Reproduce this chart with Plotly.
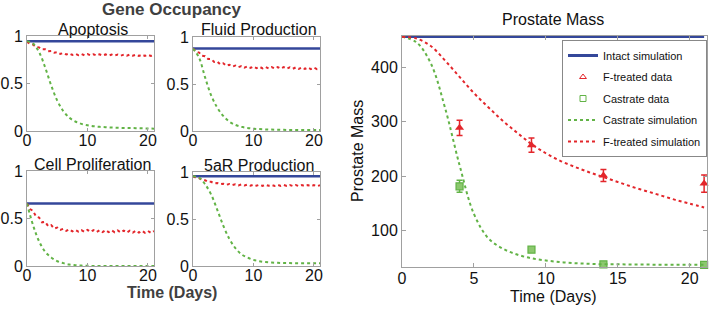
import plotly.graph_objects as go

# ---------------- data ----------------
T_DAY = [0, 1, 2, 3, 4, 5, 6, 7, 8, 9, 10, 11, 12, 13, 14, 15, 16, 17, 18, 19, 20, 21]
T_HALF = [0, 0.5, 1, 1.5, 2, 2.5, 3, 3.5, 4, 4.5, 5, 5.5, 6, 6.5, 7, 7.5, 8, 8.5, 9, 9.5,
          10, 10.5, 11, 11.5, 12, 12.5, 13, 13.5, 14, 14.5, 15, 15.5, 16, 16.5, 17, 17.5,
          18, 18.5, 19, 19.5, 20, 20.5, 21]

# Gene occupancy panels
AP_INTACT = 0.945
AP_F = [.94, .915, .91, .885, .88, .86, .86, .84, .843, .825, .83, .812, .82, .805, .815, .80,
        .812, .798, .81, .797, .809, .796, .808, .795, .807, .795, .806, .794, .805, .793, .805,
        .793, .804, .792, .804, .792, .803, .791, .803, .791, .802, .79, .80]
AP_C = [.945, .92, .83, .67, .48, .32, .21, .14, .10, .075, .06, .05, .044, .04, .036, .034,
        .032, .031, .03, .028, .027, .025]

FL_INTACT = 0.877
FL_F = [.877, .845, .835, .80, .795, .765, .765, .735, .74, .71, .72, .695, .705, .685, .695,
        .678, .69, .674, .687, .671, .685, .669, .683, .667, .682, .666, .681, .665, .68, .664,
        .679, .663, .678, .662, .677, .661, .676, .66, .675, .659, .674, .658, .672]
FL_C = [.877, .78, .57, .38, .25, .16, .10, .065, .045, .033, .025, .02, .017, .015, .013,
        .012, .011, .011, .01, .01, .01, .01]

PR_INTACT = 0.657
PR_F = [.657, .60, .58, .52, .51, .46, .465, .42, .43, .395, .405, .38, .392, .37, .385, .365,
        .38, .362, .378, .36, .38, .36, .378, .358, .377, .357, .376, .356, .375, .355, .374,
        .354, .373, .353, .372, .352, .371, .351, .37, .35, .369, .349, .368]
PR_C = [.657, .43, .26, .15, .09, .05, .03, .015, .008, .004, .002, .001, 0, 0, 0, 0, 0, 0, 0,
        0, 0, 0]

FA_INTACT = 0.955
FA_F = [.955, .94, .935, .915, .912, .895, .895, .88, .883, .87, .876, .864, .872, .86, .869,
        .858, .867, .856, .866, .855, .865, .854, .864, .853, .864, .853, .863, .852, .863, .852,
        .862, .851, .862, .851, .861, .85, .861, .85, .86, .849, .86, .849, .859]
FA_C = [.955, .94, .87, .76, .60, .43, .29, .19, .125, .09, .065, .05, .042, .037, .034, .032,
        .031, .03, .03, .03, .03, .03]

# Prostate mass panel
MASS_INTACT = 457.5
MASS_F_SIM = [457, 454, 440, 413, 383, 353, 327, 302, 280, 259, 242, 228, 217, 207, 198, 189,
              180, 172, 164, 156, 149, 142]
MASS_C_SIM = [457, 447, 408, 325, 220, 130, 85, 66, 55, 48, 44, 41, 39, 38, 37, 37, 36.5, 36.5,
              36, 36, 36, 36]
DATA_T = [4, 9, 14, 21]
F_DATA = [289, 257, 201, 186]
F_ERR = [14, 13, 11, 16]
C_DATA = [181, 64, 37, 36]
C_ERR = [11, 3, 2, 2]

SMALL_XTICKS = [0, 10, 20]
SMALL_YTICKS = [0, 0.5, 1]
SMALL_YTEXT = ["0", "0.5", "1"]
BIG_XTICKS = [0, 5, 10, 15, 20]
BIG_YTICKS = [100, 200, 300, 400]

# ---------------- styling / layout ----------------
W, H = 712, 309
BLUE = '#34479a'
RED = '#e3262b'
GREEN = '#62b346'
AXC = '#a0a0a0'
TXT = '#111111'
FONT = 'Liberation Sans, Arial, sans-serif'


def fx(p):
    return p / W


def fy(p):
    return 1 - p / H


fig = go.Figure()

panels = [
    ("Apoptosis", AP_INTACT, AP_F, AP_C, (27, 154), (36, 131)),
    ("Fluid Production", FL_INTACT, FL_F, FL_C, (193, 320), (37, 131)),
    ("Cell Proliferation", PR_INTACT, PR_F, PR_C, (27, 154), (171, 266)),
    ("5aR Production", FA_INTACT, FA_F, FA_C, (193, 320), (172, 266)),
]

annotations = []
layout_axes = {}
for i, (name, intact, fser, cser, xd, yd) in enumerate(panels):
    n = i + 1
    xa = 'x' if n == 1 else f'x{n}'
    ya = 'y' if n == 1 else f'y{n}'
    fig.add_trace(go.Scatter(x=T_DAY, y=[intact] * len(T_DAY), mode='lines',
                             line=dict(color=BLUE, width=2.5), xaxis=xa, yaxis=ya,
                             showlegend=False))
    fig.add_trace(go.Scatter(x=T_HALF, y=fser, mode='lines',
                             line=dict(color=RED, width=2, dash='dot'), xaxis=xa, yaxis=ya,
                             showlegend=False))
    fig.add_trace(go.Scatter(x=T_DAY, y=cser, mode='lines', line_shape='spline',
                             line=dict(color=GREEN, width=2, dash='dot'), xaxis=xa, yaxis=ya,
                             showlegend=False))
    xkey = 'xaxis' if n == 1 else f'xaxis{n}'
    ykey = 'yaxis' if n == 1 else f'yaxis{n}'
    layout_axes[xkey] = dict(domain=[fx(xd[0]), fx(xd[1])], range=[0, 21], anchor=ya,
                             tickvals=SMALL_XTICKS, ticks='inside', ticklen=3, tickcolor=AXC,
                             showline=True, linecolor=AXC, linewidth=1, mirror='ticks',
                             showgrid=False, zeroline=False, automargin=False,
                             ticklabelstandoff=-5,
                             tickfont=dict(size=16, color=TXT, family=FONT))
    layout_axes[ykey] = dict(domain=[fy(yd[1]), fy(yd[0])], range=[0, 1], anchor=xa,
                             tickvals=SMALL_YTICKS, ticktext=SMALL_YTEXT, ticks='inside',
                             ticklen=3, tickcolor=AXC, showline=True, linecolor=AXC,
                             linewidth=1, mirror='ticks', showgrid=False, zeroline=False,
                             automargin=False,
                             tickfont=dict(size=16, color=TXT, family=FONT))
    annotations.append(dict(text=name, x=fx((xd[0] + xd[1]) / 2 + 2), y=fy(yd[0] - 7),
                            xref='paper', yref='paper', xanchor='center', yanchor='middle',
                            showarrow=False, font=dict(size=16, color=TXT, family=FONT)))

# big panel
fig.add_trace(go.Scatter(x=T_DAY, y=[MASS_INTACT] * len(T_DAY), mode='lines',
                         line=dict(color=BLUE, width=3), xaxis='x5', yaxis='y5',
                         name='Intact simulation', legendrank=1, legendgroup='g1'))
fig.add_trace(go.Scatter(x=DATA_T, y=F_DATA, mode='markers', cliponaxis=False,
                         marker=dict(symbol='triangle-up', size=8, color=RED),
                         error_y=dict(type='data', array=F_ERR, color=RED, thickness=1.5, width=3),
                         xaxis='x5', yaxis='y5', showlegend=False))
fig.add_trace(go.Scatter(x=DATA_T, y=C_DATA, mode='markers', cliponaxis=False,
                         marker=dict(symbol='square', size=7, color='#8cc86e',
                                     line=dict(color=GREEN, width=1.2)),
                         error_y=dict(type='data', array=C_ERR, color=GREEN, thickness=1.5, width=3),
                         xaxis='x5', yaxis='y5', showlegend=False))
fig.add_trace(go.Scatter(x=T_DAY, y=MASS_C_SIM, mode='lines', line_shape='spline',
                         line=dict(color=GREEN, width=2, dash='dot'), xaxis='x5', yaxis='y5',
                         name='Castrate simulation', legendrank=4, legendgroup='g4'))
fig.add_trace(go.Scatter(x=T_DAY, y=MASS_F_SIM, mode='lines', line_shape='spline',
                         line=dict(color=RED, width=2, dash='dot'), xaxis='x5', yaxis='y5',
                         name='F-treated simulation', legendrank=5, legendgroup='g5'))
# legend proxies for data markers (open symbols as in the reference legend)
fig.add_trace(go.Scatter(x=[None], y=[None], mode='markers',
                         marker=dict(symbol='triangle-up-open', size=6, color=RED),
                         xaxis='x5', yaxis='y5', name='F-treated data', legendrank=2,
                         legendgroup='g2'))
fig.add_trace(go.Scatter(x=[None], y=[None], mode='markers',
                         marker=dict(symbol='square-open', size=6, color=GREEN),
                         xaxis='x5', yaxis='y5', name='Castrate data', legendrank=3,
                         legendgroup='g3'))

layout_axes['xaxis5'] = dict(domain=[fx(402), fx(707)], range=[0, 21.2], anchor='y5',
                             tickvals=BIG_XTICKS, ticks='inside', ticklen=4, tickcolor=AXC,
                             showline=True, linecolor=AXC, linewidth=1, mirror='ticks',
                             showgrid=False, zeroline=False, automargin=False,
                             ticklabelstandoff=-3,
                             tickfont=dict(size=16, color=TXT, family=FONT))
layout_axes['yaxis5'] = dict(domain=[fy(267), fy(36)], range=[32, 458.5], anchor='x5',
                             tickvals=BIG_YTICKS, ticks='inside', ticklen=4, tickcolor=AXC,
                             showline=True, linecolor=AXC, linewidth=1, mirror='ticks',
                             showgrid=False, zeroline=False, automargin=False,
                             tickfont=dict(size=16, color=TXT, family=FONT))

annotations += [
    dict(text='<b>Gene Occupancy</b>', x=fx(171), y=fy(10), xref='paper', yref='paper',
         xanchor='center', yanchor='middle', showarrow=False,
         font=dict(size=17, color='#404040', family=FONT)),
    dict(text='<b>Time (Days)</b>', x=fx(172), y=fy(292), xref='paper', yref='paper',
         xanchor='center', yanchor='middle', showarrow=False,
         font=dict(size=16, color='#404040', family=FONT)),
    dict(text='Prostate Mass', x=fx(553), y=fy(19), xref='paper', yref='paper',
         xanchor='center', yanchor='middle', showarrow=False,
         font=dict(size=16, color=TXT, family=FONT)),
    dict(text='Time (Days)', x=fx(553), y=fy(296), xref='paper', yref='paper',
         xanchor='center', yanchor='middle', showarrow=False,
         font=dict(size=16, color=TXT, family=FONT)),
    dict(text='Prostate Mass', x=fx(357), y=fy(151), xref='paper', yref='paper',
         xanchor='center', yanchor='middle', showarrow=False, textangle=-90,
         font=dict(size=16, color=TXT, family=FONT)),
]

fig.update_layout(
    width=W, height=H, margin=dict(l=0, r=0, t=0, b=0, autoexpand=False),
    paper_bgcolor='white', plot_bgcolor='white',
    font=dict(family=FONT, color=TXT),
    annotations=annotations,
    legend=dict(x=fx(707), y=fy(40), xanchor='right', yanchor='top',
                bgcolor='white', bordercolor='#888888', borderwidth=1,
                font=dict(size=11, color=TXT, family=FONT), tracegroupgap=2.5,
                itemwidth=30),
    **layout_axes,
)

fig.write_html("out.html", config={'displayModeBar': False},
               post_script="document.body.style.margin='0px';document.body.style.padding='0px';")
